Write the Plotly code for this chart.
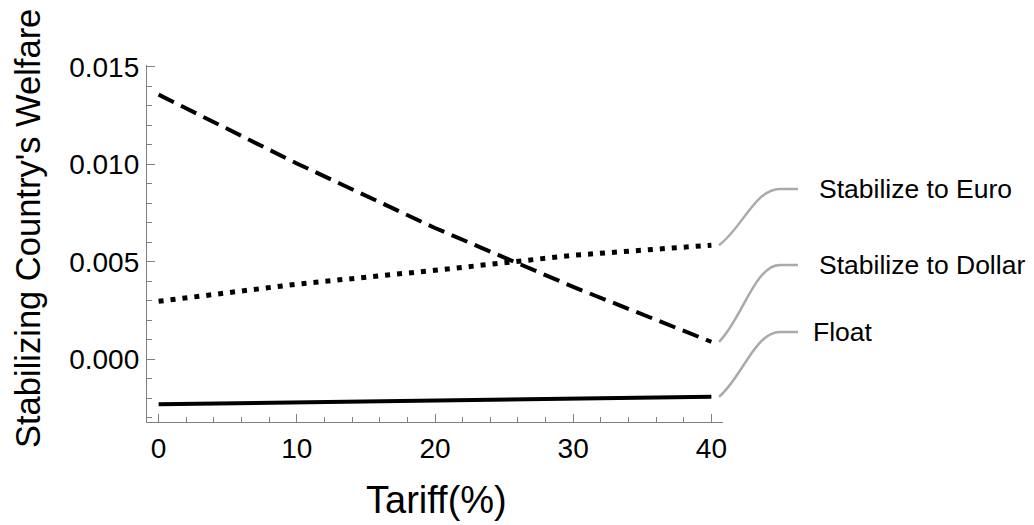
import plotly.graph_objects as go

# ---- data ----
tariff = [0, 10, 20, 30, 40]
stabilize_dollar = [0.01357, 0.01004, 0.00673, 0.00371, 0.00089]   # dashed
stabilize_euro = [0.00297, 0.00385, 0.00456, 0.00533, 0.00585]     # dotted
float_regime = [-0.00231, -0.00221, -0.00212, -0.00202, -0.00193]  # solid

series_names = ["Stabilize to Euro", "Stabilize to Dollar", "Float"]
x_title = "Tariff(%)"
y_title = "Stabilizing Country's Welfare"

# ---- layout constants (page pixels; the page body has an 8px margin) ----
OFF = 8
W, H = 1034 - OFF, 525 - OFF
PL, PR, PT, PB = 147, 723, 65, 422          # plot-area edges in page pixels
ML, MT = PL - OFF, PT - OFF
MR, MB = W - (PR - OFF), H - (PB - OFF)
XR = [-0.84, 40.84]
YR = [-0.00322, 0.01509]
FONT = "Liberation Sans, Arial, sans-serif"
AXC = "#808080"
CALLC = "#aaaaaa"

pw = PR - PL
ph = PB - PT


def px_x(px):
    return (px - PL) / pw


def px_y(py):
    return (PB - py) / ph


def data_y(v):
    return (v - YR[0]) / (YR[1] - YR[0])


fig = go.Figure()
fig.add_trace(go.Scatter(x=tariff, y=stabilize_dollar, mode="lines", name=series_names[1],
                         line=dict(color="black", width=4, dash="17px,8px"), showlegend=False))
fig.add_trace(go.Scatter(x=tariff, y=stabilize_euro, mode="lines", name=series_names[0],
                         line=dict(color="black", width=5, dash="5px,7px"), showlegend=False))
fig.add_trace(go.Scatter(x=tariff, y=float_regime, mode="lines", name=series_names[2],
                         line=dict(color="black", width=4), showlegend=False))

# callouts
ends = [stabilize_euro[-1], stabilize_dollar[-1], float_regime[-1]]
label_py = [189, 265, 332]
label_px = [817, 817, 811]
shapes = []
annotations = []
for name, v, lpy, lpx in zip(series_names, ends, label_py, label_px):
    x0, y0 = px_x(719), data_y(v)
    x1, y1 = px_x(780), px_y(lpy)
    x2 = px_x(798)
    c1x, c1y = px_x(742), y0 + (y1 - y0) * 0.3
    c2x, c2y = px_x(755), y1
    path = f"M {x0},{y0} C {c1x},{c1y} {c2x},{c2y} {x1},{y1} L {x2},{y1}"
    shapes.append(dict(type="path", xref="paper", yref="paper", path=path,
                       line=dict(color=CALLC, width=2.5)))
    annotations.append(dict(x=px_x(lpx), y=y1, xref="paper", yref="paper", text=name,
                            showarrow=False, xanchor="left", yanchor="middle",
                            font=dict(family=FONT, size=26.5, color="black")))

annotations.append(dict(x=px_x(436), y=px_y(500), xref="paper", yref="paper", text=x_title,
                        showarrow=False, xanchor="center", yanchor="middle",
                        font=dict(family=FONT, size=38, color="black")))
annotations.append(dict(x=px_x(28), y=px_y(229), xref="paper", yref="paper", text=y_title,
                        showarrow=False, xanchor="center", yanchor="middle", textangle=-90,
                        font=dict(family=FONT, size=34.5, color="black")))

axis_common = dict(showline=True, linecolor=AXC, linewidth=1.3, showgrid=False, zeroline=False,
                   ticks="inside", ticklen=8, tickcolor=AXC, tickwidth=1.2,
                   tickfont=dict(family=FONT, size=28, color="black"), mirror=False)

fig.update_layout(
    width=W, height=H,
    margin=dict(l=ML, r=MR, t=MT, b=MB),
    paper_bgcolor="white", plot_bgcolor="white",
    xaxis=dict(range=XR, tickmode="linear", tick0=0, dtick=10, ticklabelstandoff=1,
               minor=dict(dtick=2, tick0=0, ticks="inside", ticklen=4.5, tickcolor=AXC, tickwidth=1.2),
               **axis_common),
    yaxis=dict(range=YR, tickmode="linear", tick0=0, dtick=0.005, tickformat=".3f",
               ticklabelstandoff=1,
               minor=dict(dtick=0.001, tick0=0, ticks="inside", ticklen=5, tickcolor=AXC, tickwidth=1.2),
               **axis_common),
    shapes=shapes,
    annotations=annotations,
    showlegend=False,
)

fig.write_html("out.html")
